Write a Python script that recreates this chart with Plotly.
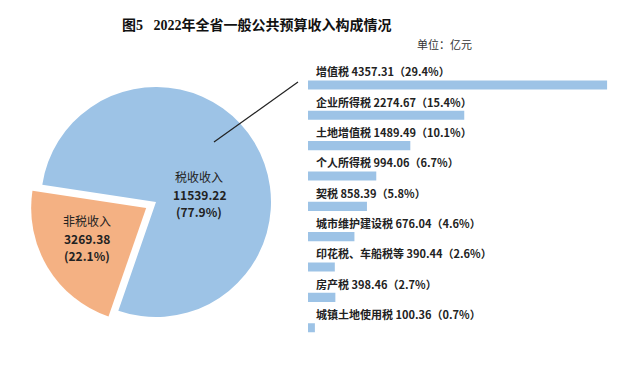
import plotly.graph_objects as go

# page body has an 8px margin; the figure is sized so the page is exactly the window
OFF = 8
W, H = 636 - 2 * OFF, 366 - 2 * OFF

# ---- data ----
pie_labels = ["税收收入", "非税收入"]
pie_values = [11539.22, 3269.38]
pie_pcts = ["77.9%", "22.1%"]

tax_names = ["增值税", "企业所得税", "土地增值税", "个人所得税", "契税",
             "城市维护建设税", "印花税、车船税等", "房产税", "城镇土地使用税"]
tax_values = [4357.31, 2274.67, 1489.49, 994.06, 858.39, 676.04, 390.44, 398.46, 100.36]
tax_pcts = ["29.4%", "15.4%", "10.1%", "6.7%", "5.8%", "4.6%", "2.6%", "2.7%", "0.7%"]

title_text = "图5\u00a0\u00a0 2022年全省一般公共预算收入构成情况"
unit_text = "单位：亿元"

BLUE = "#9DC3E6"
ORANGE = "#F4B183"
FONT = "Liberation Serif, Noto Sans CJK SC"
LFONT = "Noto Sans CJK SC"


def px(x):
    return (x - OFF) / W


def py(y):
    return 1 - (y - OFF) / H


fig = go.Figure()

# pie: center (156,202), radius 115, pull 0.1
pull = 0.1
half = 115 * (1 + pull)
fig.add_trace(go.Pie(
    labels=pie_labels, values=pie_values, sort=False,
    direction="clockwise", rotation=-81.4,
    pull=[0, pull],
    marker=dict(colors=[BLUE, ORANGE], line=dict(width=0)),
    textinfo="none", hoverinfo="label+value+percent",
    domain=dict(x=[px(156 - half), px(156 + half)], y=[py(202 + half), py(202 - half)]),
    showlegend=False,
))

fig.add_trace(go.Bar(
    x=tax_values, y=tax_names, orientation="h",
    marker=dict(color=BLUE, line=dict(width=0)),
    width=0.3, showlegend=False,
    xaxis="x", yaxis="y",
))

annotations = []
# pie labels: three lines each
pie_pos = [(199, 194), (87, 238)]
for lab, v, p, (cx, cy) in zip(pie_labels, pie_values, pie_pcts, pie_pos):
    lines = [lab, f"<b>{v:.2f}</b>", f"<b>({p})</b>"]
    for k, t in enumerate(lines):
        annotations.append(dict(
            x=px(cx), y=py(cy), xref="paper", yref="paper",
            xanchor="center", yanchor="middle", yshift=(1 - k) * 17.5,
            text=t, showarrow=False, borderpad=0, borderwidth=0,
            font=dict(family=LFONT, size=12, color="#222"),
        ))

# bar labels
for n, v, p in zip(tax_names, tax_values, tax_pcts):
    annotations.append(dict(
        x=0, y=n, xref="x", yref="y", xanchor="left", yanchor="middle",
        xshift=8, yshift=13.6, borderpad=0, borderwidth=0,
        text=f"<b>{n} {v:.2f}（{p}）</b>",
        showarrow=False,
        font=dict(family=LFONT, size=11, color="#222"),
    ))

annotations.append(dict(
    x=px(257), y=py(25), xref="paper", yref="paper",
    xanchor="center", yanchor="middle",
    text=f"<b>{title_text}</b>", showarrow=False,
    font=dict(family=FONT, size=14, color="#111"),
))
annotations.append(dict(
    x=px(444), y=py(44), xref="paper", yref="paper",
    xanchor="center", yanchor="middle",
    text=unit_text, showarrow=False,
    font=dict(family=LFONT, size=11, color="#333"),
))

fig.update_layout(
    width=W, height=H,
    margin=dict(l=0, r=0, t=0, b=0),
    paper_bgcolor="white", plot_bgcolor="white",
    xaxis=dict(domain=[px(308), px(607.3)], range=[0, 4357.31],
               showgrid=False, zeroline=False, showticklabels=False, showline=False,
               fixedrange=True),
    yaxis=dict(domain=[py(85.3 + 31.06 * 8.5), py(85.3 - 31.06 * 0.5)],
               autorange="reversed", categoryorder="array", categoryarray=tax_names,
               showgrid=False, zeroline=False, showticklabels=False, showline=False,
               fixedrange=True),
    annotations=annotations,
    shapes=[dict(type="line", xref="paper", yref="paper",
                 x0=px(214), y0=py(142), x1=px(298), y1=py(82),
                 line=dict(color="#222", width=1.2))],
)

fig.write_html("out.html")
